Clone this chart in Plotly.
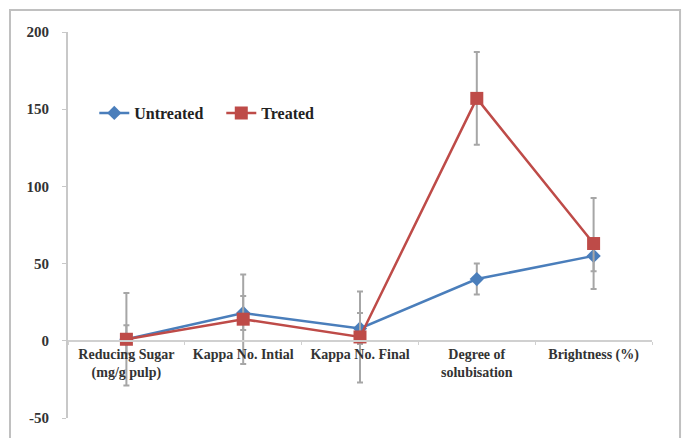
import plotly.graph_objects as go

categories = ["Reducing Sugar<br>(mg/g pulp)", "Kappa No. Intial", "Kappa No. Final",
              "Degree of<br>solubisation", "Brightness (%)"]
untreated = [1, 18, 8, 40, 55]
untreated_err = [9, 11, 10, 10, 10]
treated = [1, 14, 2.5, 157, 63]
treated_err = [30, 29, 29.5, 30, 29.5]
y_ticks = [-50, 0, 50, 100, 150, 200]
y_tick_text = ["-50", "0", "50", "100", "150", "200"]

font_family = "Liberation Serif"

fig = go.Figure()
fig.add_trace(go.Scatter(
    x=categories, y=untreated, name="Untreated", mode="lines+markers",
    line=dict(color="#4a7ebb", width=2.5),
    marker=dict(symbol="diamond", size=11, color="#4a7ebb"),
    error_y=dict(type="data", array=untreated_err, color="#a6a6a6", thickness=2, width=3),
))
fig.add_trace(go.Scatter(
    x=categories, y=treated, name="Treated", mode="lines+markers",
    line=dict(color="#be4b48", width=2.5),
    marker=dict(symbol="square", size=13, color="#be4b48"),
    error_y=dict(type="data", array=treated_err, color="#a6a6a6", thickness=2, width=3),
))

# Outer chart frame
fig.add_shape(type="rect", xref="paper", yref="paper",
              x0=-0.0993, x1=1.048, y0=-0.09, y1=1.057,
              line=dict(color="#c0c0c0", width=2), fillcolor="rgba(0,0,0,0)", layer="below")

fig.update_layout(
    width=683, height=438,
    margin=dict(l=68, r=31, t=32, b=18),
    paper_bgcolor="white", plot_bgcolor="white",
    font=dict(family=font_family, color="#333333", size=12),
    showlegend=True,
    legend=dict(orientation="h", x=0.045, y=0.79, yanchor="middle", xanchor="left",
                font=dict(family=font_family, size=16, color="#222222", weight="bold"),
                bgcolor="rgba(0,0,0,0)", itemwidth=30,
                entrywidth=82, entrywidthmode="pixels"),
    xaxis=dict(
        type="category", range=[-0.5, 4.5], anchor="free", position=0.2,
        showline=True, linecolor="#d0d0d0", linewidth=2,
        ticks="outside", tickson="boundaries", ticklen=3, tickcolor="#d0d0d0",
        showgrid=False, zeroline=False,
        tickfont=dict(family=font_family, size=14, color="#333333", weight="bold"),
    ),
    yaxis=dict(
        range=[-50, 200], tickvals=y_ticks, ticktext=y_tick_text,
        showline=True, linecolor="#c8c8c8", linewidth=2,
        ticks="outside", ticklen=4, tickcolor="#c8c8c8",
        showgrid=False, zeroline=False,
        tickfont=dict(family=font_family, size=15, color="#333333", weight="bold"),
        ticklabelstandoff=10,
    ),
)

fig.write_html("out.html")
